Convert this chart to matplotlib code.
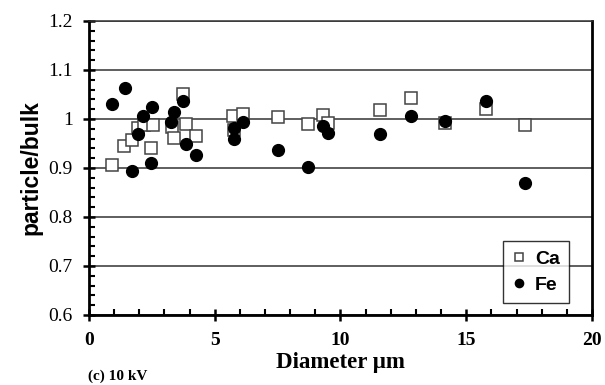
import matplotlib.pyplot as plt
from matplotlib.ticker import MultipleLocator

# particle / bulk ratios vs particle diameter (um)
ca_d = [0.93, 1.40, 1.70, 1.94, 2.17, 2.53, 2.48, 3.29, 3.37, 3.72, 3.86, 4.25,
        5.73, 5.75, 6.11, 7.53, 8.70, 9.32, 9.52, 11.57, 12.80, 14.15, 15.77, 17.34]
ca_r = [0.907, 0.944, 0.958, 0.982, 0.988, 0.988, 0.941, 0.984, 0.962, 1.050, 0.989, 0.965,
        1.006, 0.977, 1.010, 1.003, 0.989, 1.008, 0.992, 1.018, 1.043, 0.992, 1.021, 0.988]

fe_d = [0.93, 1.43, 1.70, 1.96, 2.16, 2.50, 2.48, 3.37, 3.27, 3.72, 3.86, 4.25,
        5.75, 5.75, 6.12, 7.53, 8.70, 9.32, 9.49, 11.57, 12.80, 14.15, 15.77, 17.34]
fe_r = [1.030, 1.064, 0.894, 0.969, 1.007, 1.024, 0.910, 1.014, 0.994, 1.036, 0.948, 0.927,
        0.959, 0.982, 0.994, 0.937, 0.901, 0.986, 0.971, 0.970, 1.007, 0.995, 1.037, 0.869]

fig = plt.figure(figsize=(6.05, 3.85), dpi=100)
ax = fig.add_axes([0.147, 0.182, 0.8315, 0.7635])

ax.plot(ca_d, ca_r, 's', ms=8.5, mfc='white', mec='#444444', mew=1.1, label='Ca', zorder=3)
ax.plot(fe_d, fe_r, 'o', ms=8.5, color='black', label='Fe', zorder=4)

ax.set_xlim(0, 20)
ax.set_ylim(0.6, 1.2)
ax.xaxis.set_major_locator(MultipleLocator(5))
ax.xaxis.set_minor_locator(MultipleLocator(1))
ax.yaxis.set_major_locator(MultipleLocator(0.1))
ax.yaxis.set_minor_locator(MultipleLocator(0.02))
ax.yaxis.set_major_formatter(plt.FuncFormatter(lambda v, p: '1' if abs(v - 1) < 1e-9 else f'{v:.1f}'))

ax.grid(axis='y', which='major', color='#333333', lw=1.1, zorder=1)
ax.tick_params(which='major', direction='inout', length=9, width=1.8)
ax.tick_params(which='minor', direction='in', length=4, width=1.5)
ax.tick_params(axis='y', labelsize=14, pad=7)
ax.tick_params(axis='x', labelsize=14, pad=8)
for lab in ax.get_xticklabels() + ax.get_yticklabels():
    lab.set_family('Liberation Serif')
for lab in ax.get_xticklabels():
    lab.set_weight('bold')

for side in ['left', 'bottom', 'right']:
    ax.spines[side].set_linewidth(2)
ax.spines['top'].set_linewidth(1.1)
ax.spines['top'].set_color('#333333')

ax.set_ylabel('particle/bulk', family='Liberation Sans', weight='bold', fontsize=16.5, labelpad=4)
ax.set_xlabel('Diameter \u03bcm', family='Liberation Serif', weight='bold', fontsize=16.5, labelpad=2)
fig.text(0.145, 0.014, '(c) 10 kV', family='Liberation Serif', weight='bold', fontsize=11)

leg = ax.legend(loc='lower right', bbox_to_anchor=(0.954, 0.041), borderaxespad=0,
                frameon=True, fancybox=False,
                markerscale=0.7, handlelength=0.7, handletextpad=0.5, borderpad=0.45,
                labelspacing=0.45, prop={'family': 'Liberation Sans', 'weight': 'bold', 'size': 14})
leg.get_frame().set_edgecolor('black')
leg.get_frame().set_linewidth(1.0)
leg.set_zorder(5)

fig.savefig('out.png', dpi=100)
